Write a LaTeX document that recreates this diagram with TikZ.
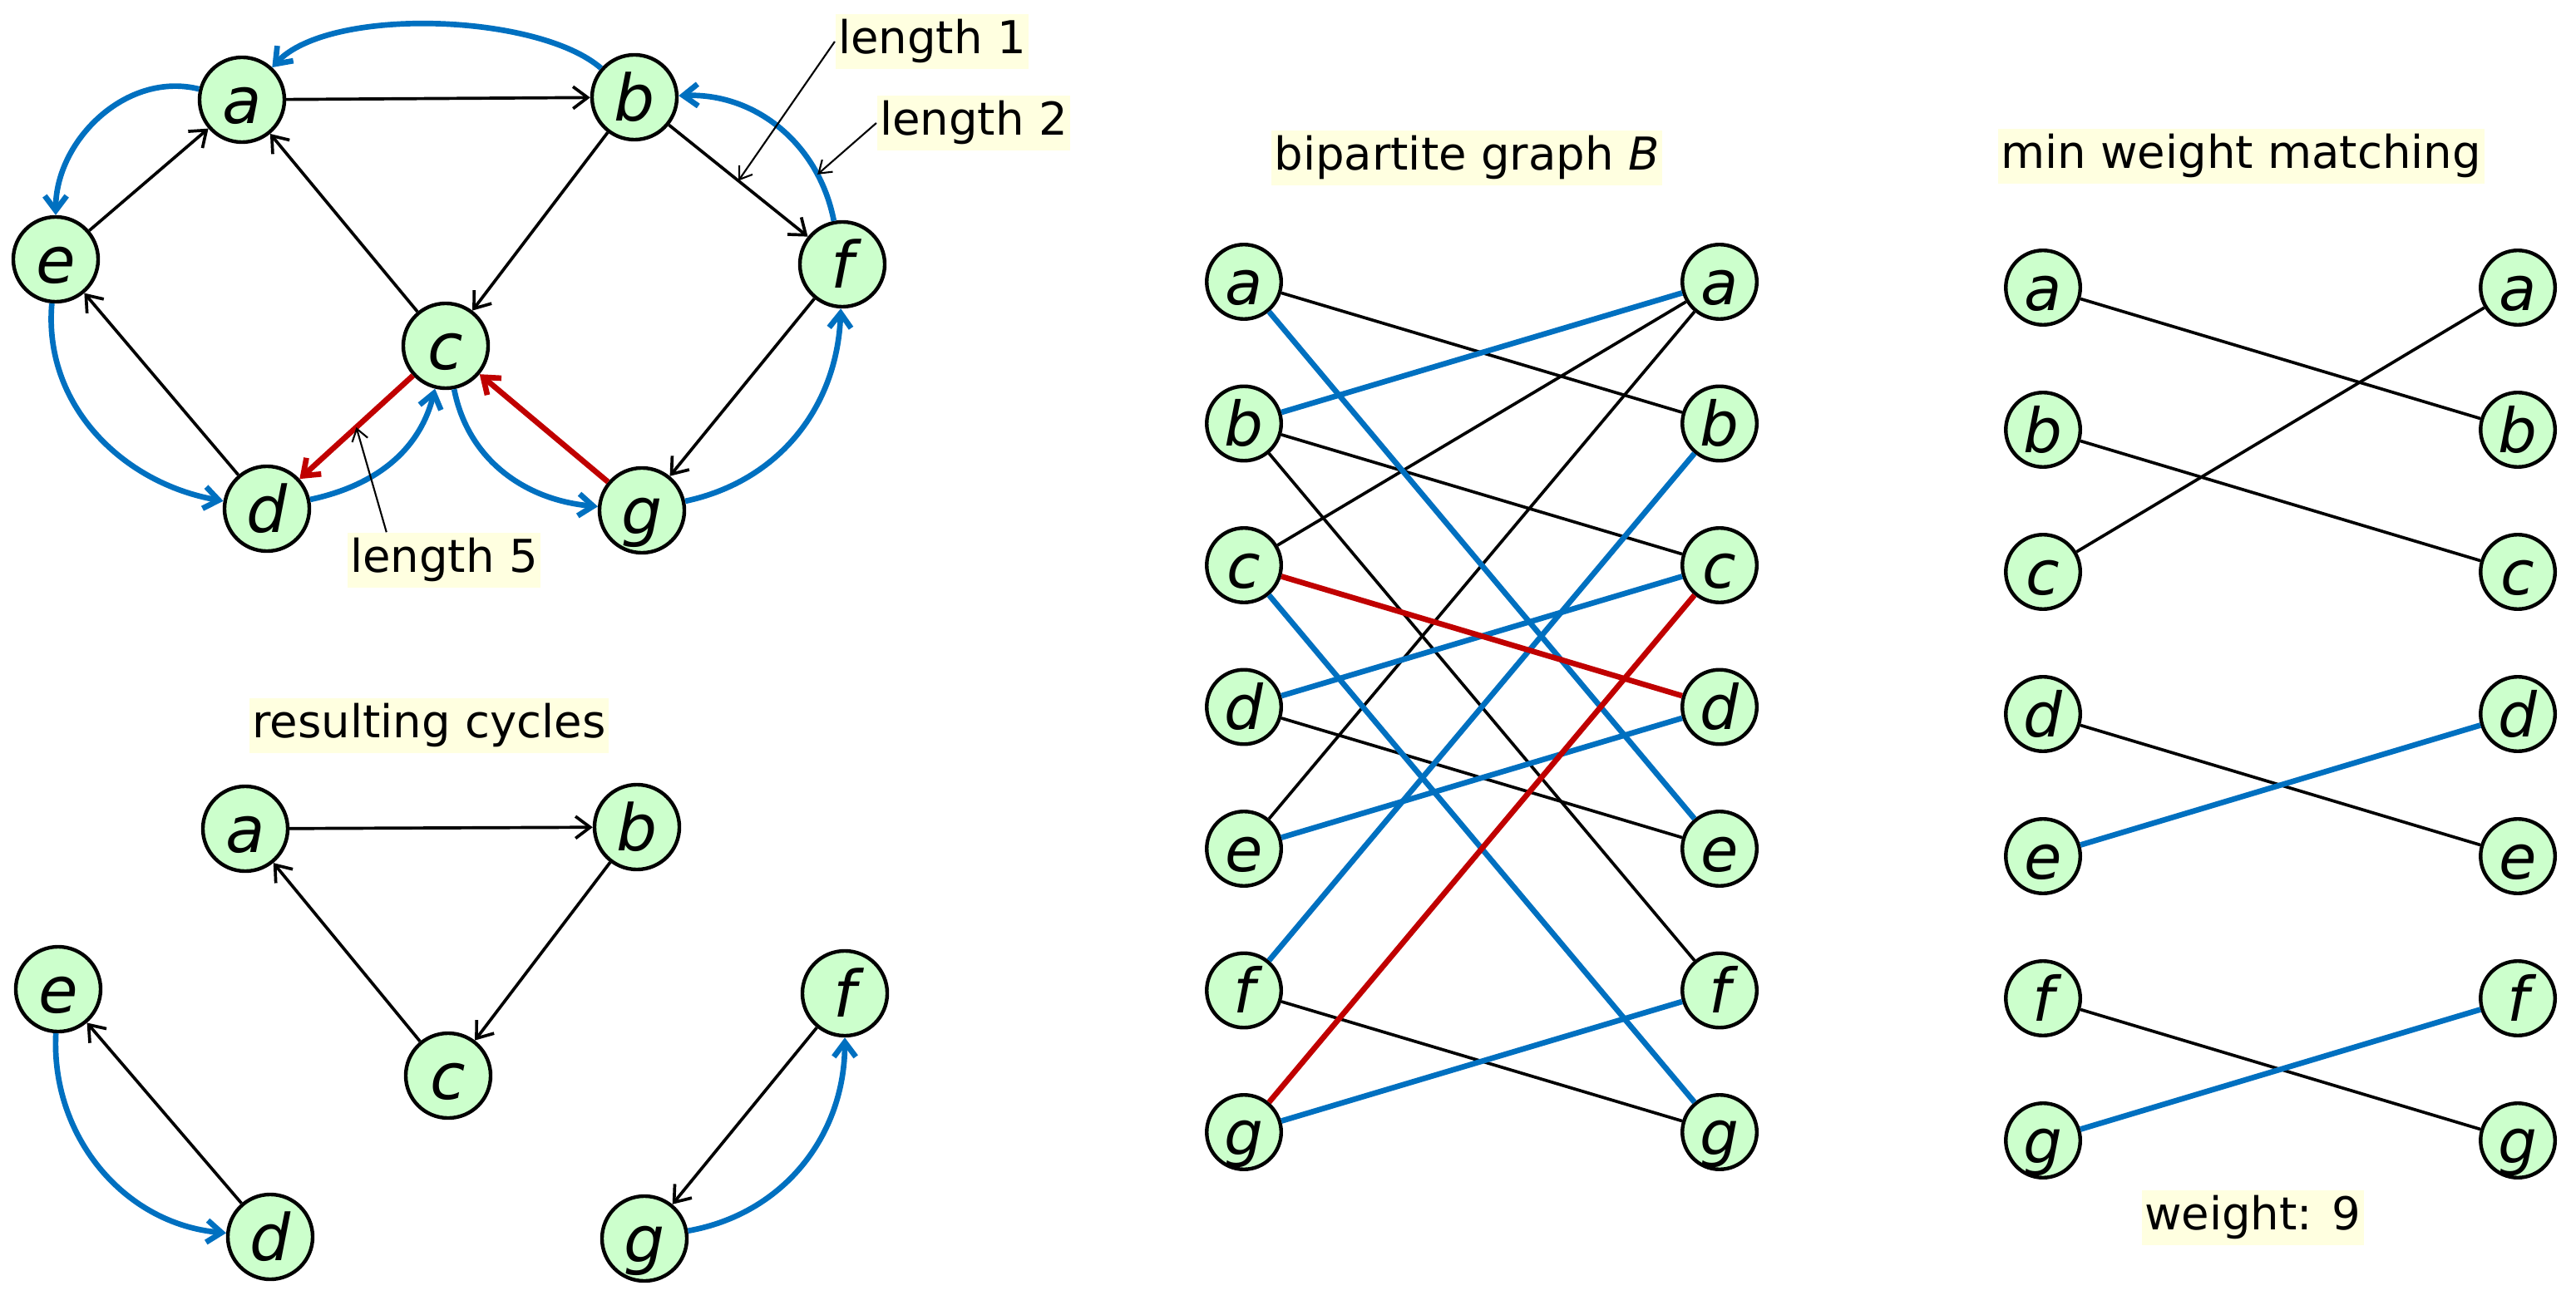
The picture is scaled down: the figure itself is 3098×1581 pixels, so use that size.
\documentclass[tikz,border=0pt]{standalone}
\usepackage{fontspec}
\setmainfont{DejaVu Sans}
\usetikzlibrary{arrows.meta}
\definecolor{vgreen}{HTML}{CCFFCC}
\definecolor{notebg}{HTML}{FFFFE0}
\definecolor{cycblue}{HTML}{0070C0}
\definecolor{cycred}{HTML}{C00000}

\begin{document}
\begin{tikzpicture}[x=0.01cm, y=0.01cm, >={Straight Barb[length=5pt,width=7.5pt]},
  vertex/.style={circle, draw, line width=1.25pt, fill=vgreen, minimum size=1.02cm, inner sep=0pt,
    text height=16pt, text depth=0pt, font=\fontsize{22}{26}\selectfont\itshape},
  bvertex/.style={vertex, minimum size=0.895cm, text height=15.4pt, font=\fontsize{21}{25}\selectfont\itshape},
  note/.style={fill=notebg, inner xsep=1pt, inner ysep=1.7pt, text height=11.8pt, text depth=3.6pt,
    font=\fontsize{15.5}{18}\selectfont},
  arc/.style={line width=1.05pt, ->},
  pick/.style={line width=1.9pt, cycblue, ->},
  bad/.style={line width=1.9pt, cycred, ->},
  pointer/.style={line width=0.6pt, -{Straight Barb[length=4pt,width=5.5pt]}},
  match/.style={line width=1.05pt},
  mpick/.style={line width=1.9pt, cycblue},
  mbad/.style={line width=1.9pt, cycred}]

\useasboundingbox (0,0) rectangle (3098,1581);

% original graph
\node [vertex] (a) at (291,1461) {a};
\node [vertex] (b) at (763,1464) {b};
\node [vertex] (c) at (536,1165) {c};
\node [vertex] (d) at (321,969) {d};
\node [vertex] (e) at (67,1269) {e};
\node [vertex] (f) at (1013,1263) {f};
\node [vertex] (g) at (772,967) {g};

\draw [arc] (a) -- (b);
\draw [arc] (b) -- coordinate (bfmid) (f);
\draw [arc] (b) -- (c);
\draw [arc] (c) -- (a);
\draw [arc] (e) -- (a);
\draw [arc] (d) -- (e);
\draw [arc] (f) -- (g);

\draw [pick] (b) to[out=139,in=47,looseness=0.65] (a);
\draw [pick] (a) to[out=166,in=90] (e);
\draw [pick] (e) to[out=265,in=170] (d);
\draw [pick] (d) to[out=12,in=256] (c);
\draw [pick] (c) to[out=281,in=175] (g);
\draw [pick] (g) to[out=12,in=268] (f);
\draw [pick] (f) to[out=101,in=2] coordinate[pos=0.22] (fbmid) (b);
\draw [bad] (c) -- coordinate (cdmid) (d);
\draw [bad] (g) -- (c);

% edge lengths
\node [note] (len1) at (1121,1531) {length 1};
\node [note] (len2) at (1171,1433) {length 2};
\node [note] (len5) at (534,907) {length 5};
\draw [pointer] (len1.west) -- (bfmid);
\draw [pointer] (len2.west) -- (fbmid);
\draw [pointer] (len5.154) -- (cdmid);

% resulting cycles
\node [note] (cyc) at (516,708) {resulting cycles};
\node [vertex] (ca) at (295,584) {a};
\node [vertex] (cb) at (766,586) {b};
\node [vertex] (cc) at (539,287) {c};
\node [vertex] (cd) at (325,93) {d};
\node [vertex] (ce) at (70,391) {e};
\node [vertex] (cf) at (1016,386) {f};
\node [vertex] (cg) at (775,91) {g};

\draw [arc] (ca) -- (cb);
\draw [arc] (cb) -- (cc);
\draw [arc] (cc) -- (ca);
\draw [arc] (cd) -- (ce);
\draw [arc] (cf) -- (cg);
\draw [pick] (ce) to[out=267,in=175] (cd);
\draw [pick] (cg) to[out=10,in=270] (cf);

% bipartite graph B
\node [note] (bip) at (1764,1391) {bipartite graph \textit{B}};
\foreach \v [count=\i from 0] in {a,...,g} {
  \node [bvertex] (l\v) at (1496,{1242-170.5*\i}) {\v};
  \node [bvertex] (r\v) at (2068,{1242-170.5*\i}) {\v};
}
\foreach \s/\t in {a/b, b/c, b/f, c/a, d/e, e/a, f/g}
  \draw [match] (l\s) -- (r\t);
\foreach \s/\t in {a/e, b/a, c/g, d/c, e/d, f/b, g/f}
  \draw [mpick] (l\s) -- (r\t);
\foreach \s/\t in {c/d, g/c}
  \draw [mbad] (l\s) -- (r\t);

% min weight matching
\node [note] (mwm) at (2695,1393) {min weight matching};
\foreach \v [count=\i from 0] in {a,...,g} {
  \node [bvertex] (ml\v) at (2457,{1235-171*\i}) {\v};
  \node [bvertex] (mr\v) at (3028,{1235-171*\i}) {\v};
}
\foreach \s/\t in {a/b, b/c, c/a, d/e, f/g}
  \draw [match] (ml\s) -- (mr\t);
\foreach \s/\t in {e/d, g/f}
  \draw [mpick] (ml\s) -- (mr\t);
\node [note] (wt) at (2709,116) {weight: 9};

\end{tikzpicture}
\end{document}
